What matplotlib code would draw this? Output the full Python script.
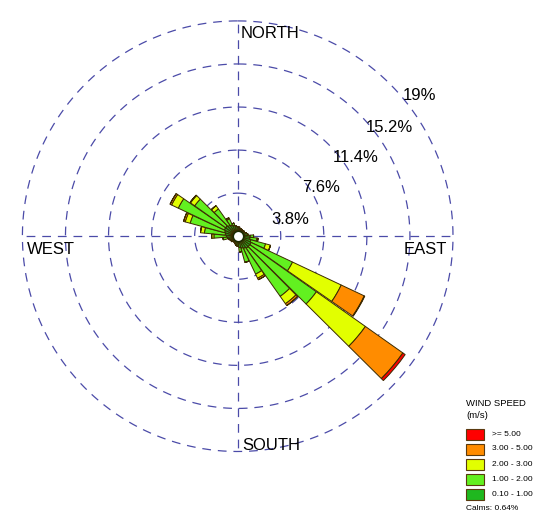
import numpy as np
import matplotlib
matplotlib.use("Agg")
import matplotlib.pyplot as plt
from matplotlib.patches import Rectangle

plt.rcParams['font.family'] = ['Liberation Sans', 'DejaVu Sans']

# wind directions (deg, from north, clockwise)
directions = np.arange(0, 360, 10)

# frequency (%) per speed class and direction
spd_01_1 = [0.8, 0.8, 0.7, 0.7, 0.6, 0.7, 0.7, 0.8, 0.9, 1.1, 1.1, 1.2,
            1.3, 1.3, 1.3, 1.2, 1.1, 1.0, 0.9, 0.8, 0.7, 0.6, 0.6, 0.7,
            0.7, 0.8, 0.9, 1.0, 1.1, 1.2, 1.3, 1.3, 1.2, 1.1, 1.0, 0.9]
spd_1_2 = [0, 0, 0, 0, 0, 0, 0, 0, 0, 0.3, 0.6, 1.35,
           4.05, 7.2, 5.2, 2.5, 1.3, 0.4, 0, 0, 0, 0, 0, 0,
           0, 0, 0.4, 1.1, 1.85, 3.15, 4.5, 3.35, 1.75, 0.6, 0.2, 0]
spd_2_3 = [0, 0, 0, 0, 0, 0, 0, 0, 0, 0, 0.1, 0.45,
           4.75, 5.3, 0.8, 0.4, 0, 0, 0, 0, 0, 0, 0, 0,
           0, 0, 0, 0.2, 0.35, 0.45, 0.65, 0.45, 0.35, 0.1, 0, 0]
spd_3_5 = [0, 0, 0, 0, 0, 0, 0, 0, 0, 0, 0, 0,
           2.25, 4.05, 0.2, 0.15, 0, 0, 0, 0, 0, 0, 0, 0,
           0, 0, 0, 0, 0, 0.15, 0.15, 0.05, 0, 0, 0, 0]
spd_5 = [0, 0, 0, 0, 0, 0, 0, 0, 0, 0, 0, 0,
         0.05, 0.25, 0, 0, 0, 0, 0, 0, 0, 0, 0, 0,
         0, 0, 0, 0, 0, 0, 0, 0, 0, 0, 0, 0]

classes = [spd_01_1, spd_1_2, spd_2_3, spd_3_5, spd_5]
class_labels = ["0.10 - 1.00", "1.00 - 2.00", "2.00 - 3.00", "3.00 - 5.00", ">= 5.00"]
colors = ["#1fb81f", "#62f020", "#e2ff00", "#ff8c00", "#ff0000"]

rings = [3.8, 7.6, 11.4, 15.2, 19]
ring_labels = ["3.8%", "7.6%", "11.4%", "15.2%", "19%"]
calms = "Calms: 0.64%"

W, H = 550, 522
fig = plt.figure(figsize=(W / 100, H / 100), dpi=100)

# polar axes placed so center is at (238, 236) px, outer ring radius 215 px
cx, cy, R = 237.7, 236.2, 215.3
ax = fig.add_axes([(cx - R) / W, (H - cy - R) / H, 2 * R / W, 2 * R / H],
                  projection='polar')
ax.set_theta_zero_location('N')
ax.set_theta_direction(-1)
ax.set_ylim(0, rings[-1])
ax.grid(False)
ax.set_xticks([])
ax.set_yticks([])
ax.spines['polar'].set_visible(False)
ax.patch.set_alpha(0)

grid_col = "#4b4ba8"
dash = (0, (7, 5.5))
tt = np.linspace(0, 2 * np.pi, 600)
for r in rings:
    ax.plot(tt, np.full_like(tt, r), color=grid_col, lw=0.9, ls=dash,
            zorder=1, clip_on=False)
for a in [0, 90, 180, 270]:
    ax.plot([np.deg2rad(a)] * 2, [0, rings[-1]], color=grid_col, lw=0.9,
            ls=dash, zorder=1, clip_on=False)

theta = np.deg2rad(directions)
bottom = np.zeros(len(directions))
for vals, col in zip(classes, colors):
    vals = np.array(vals, dtype=float)
    ax.bar(theta, vals, width=np.deg2rad(9.5), bottom=bottom, color=col,
           edgecolor="#3a2a00", linewidth=0.7, zorder=3)
    bottom += vals

# calm circle
ax.plot([0], [0], 'o', ms=7.5, mfc='white', mec='#1a2a00', mew=1.1, zorder=5)

# compass labels
fs = 12
fig.text(241 / W, 1 - 38 / H, "NORTH", fontsize=fs, ha='left', va='baseline')
fig.text(242 / W, 1 - 450 / H, "SOUTH", fontsize=fs, ha='left', va='baseline')
fig.text(27 / W, 1 - 254 / H, "WEST", fontsize=fs, ha='left', va='baseline')
fig.text(404 / W, 1 - 254 / H, "EAST", fontsize=fs, ha='left', va='baseline')

# ring labels
lab_pos = [(290, 219), (321, 188), (356, 157), (389, 127), (420, 96)]
for (x, y), t in zip(lab_pos, ring_labels):
    fig.text(x / W, 1 - y / H, t, fontsize=fs, ha='center', va='center')

# legend
fig.text(466 / W, 1 - 404 / H, "WIND SPEED", fontsize=6.8, ha='left', va='center')
fig.text(466 / W, 1 - 415 / H, "(m/s)", fontsize=6.8, ha='left', va='center')
box_y = [428.5, 443.5, 458.5, 474, 489.3]
for i, (lab, col) in enumerate(zip(class_labels[::-1], colors[::-1])):
    y0 = box_y[i]
    fig.patches.append(Rectangle((466 / W, 1 - (y0 + 11) / H), 17.5 / W, 11 / H,
                                 transform=fig.transFigure, facecolor=col,
                                 edgecolor="#5a3a10", linewidth=0.8))
    fig.text(492 / W, 1 - (y0 + 5.5) / H, lab, fontsize=6, ha='left', va='center')
fig.text(466 / W, 1 - 508 / H, calms, fontsize=6, ha='left', va='center')

fig.savefig("out.png", dpi=100)
